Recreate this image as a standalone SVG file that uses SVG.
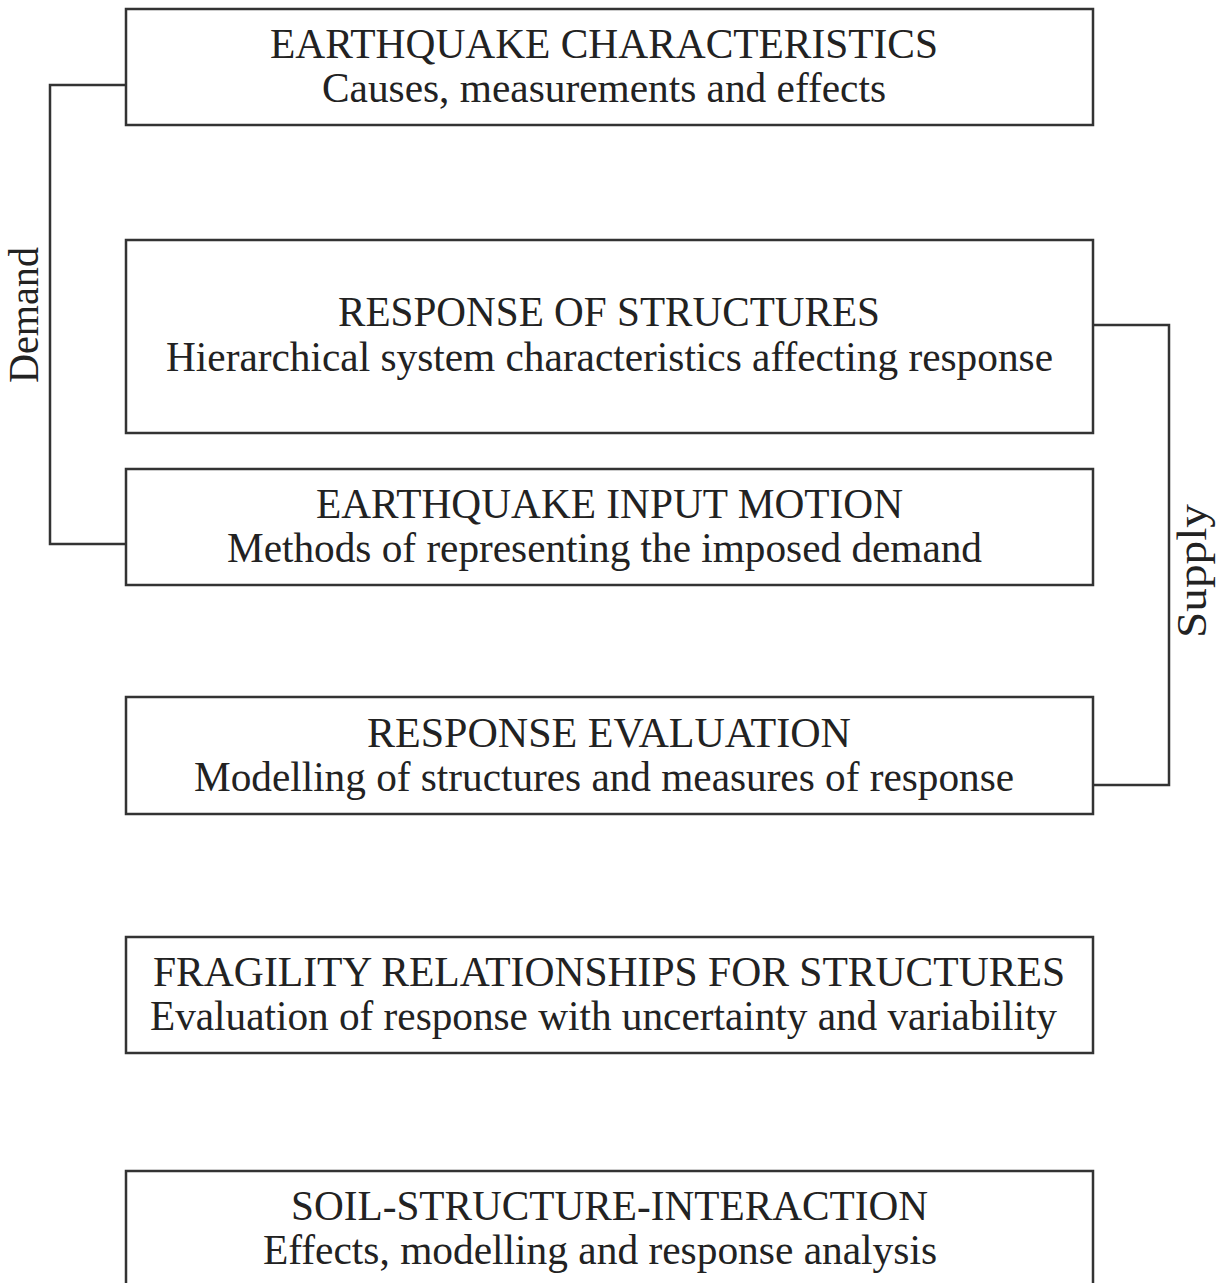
<svg xmlns="http://www.w3.org/2000/svg" width="1226" height="1283" viewBox="0 0 1226 1283">
<style>
.box{fill:#fff;stroke:#333;stroke-width:2.5}
.con{fill:none;stroke:#333;stroke-width:2.5}
text{font-family:"Liberation Serif","Times New Roman",serif;font-size:41.5px;fill:#222;text-anchor:middle}
</style>
<rect width="1226" height="1283" fill="#fff"/>
<g id="connectors">
<polyline class="con" points="126,85 50,85 50,544 126,544"/>
<polyline class="con" points="1093,325 1169,325 1169,785 1093,785"/>
<text x="0" y="0" transform="translate(38,315) rotate(-90)" textLength="136" lengthAdjust="spacingAndGlyphs">Demand</text>
<text x="0" y="0" transform="translate(1206,571) rotate(-90)" textLength="134" lengthAdjust="spacingAndGlyphs">Supply</text>
</g>
<g id="n1">
<rect class="box" x="126" y="9" width="967" height="116"/>
<text x="604" y="58" textLength="668" lengthAdjust="spacingAndGlyphs">EARTHQUAKE CHARACTERISTICS</text>
<text x="604" y="102" textLength="564" lengthAdjust="spacingAndGlyphs">Causes, measurements and effects</text>
</g>
<g id="n2">
<rect class="box" x="126" y="240" width="967" height="193"/>
<text x="609" y="326" textLength="542" lengthAdjust="spacingAndGlyphs">RESPONSE OF STRUCTURES</text>
<text x="609.5" y="371" textLength="887" lengthAdjust="spacingAndGlyphs">Hierarchical system characteristics affecting response</text>
</g>
<g id="n3">
<rect class="box" x="126" y="469" width="967" height="116"/>
<text x="609.5" y="518" textLength="587" lengthAdjust="spacingAndGlyphs">EARTHQUAKE INPUT MOTION</text>
<text x="604.5" y="562" textLength="755" lengthAdjust="spacingAndGlyphs">Methods of representing the imposed demand</text>
</g>
<g id="n4">
<rect class="box" x="126" y="697" width="967" height="117"/>
<text x="609" y="747" textLength="484" lengthAdjust="spacingAndGlyphs">RESPONSE EVALUATION</text>
<text x="604" y="791" textLength="820" lengthAdjust="spacingAndGlyphs">Modelling of structures and measures of response</text>
</g>
<g id="n5">
<rect class="box" x="126" y="937" width="967" height="116"/>
<text x="609" y="986" textLength="912" lengthAdjust="spacingAndGlyphs">FRAGILITY RELATIONSHIPS FOR STRUCTURES</text>
<text x="603.5" y="1030" textLength="907" lengthAdjust="spacingAndGlyphs">Evaluation of response with uncertainty and variability</text>
</g>
<g id="n6">
<rect class="box" x="126" y="1171" width="967" height="130"/>
<text x="609.5" y="1220" textLength="637" lengthAdjust="spacingAndGlyphs">SOIL-STRUCTURE-INTERACTION</text>
<text x="600" y="1264" textLength="674" lengthAdjust="spacingAndGlyphs">Effects, modelling and response analysis</text>
</g>
</svg>
